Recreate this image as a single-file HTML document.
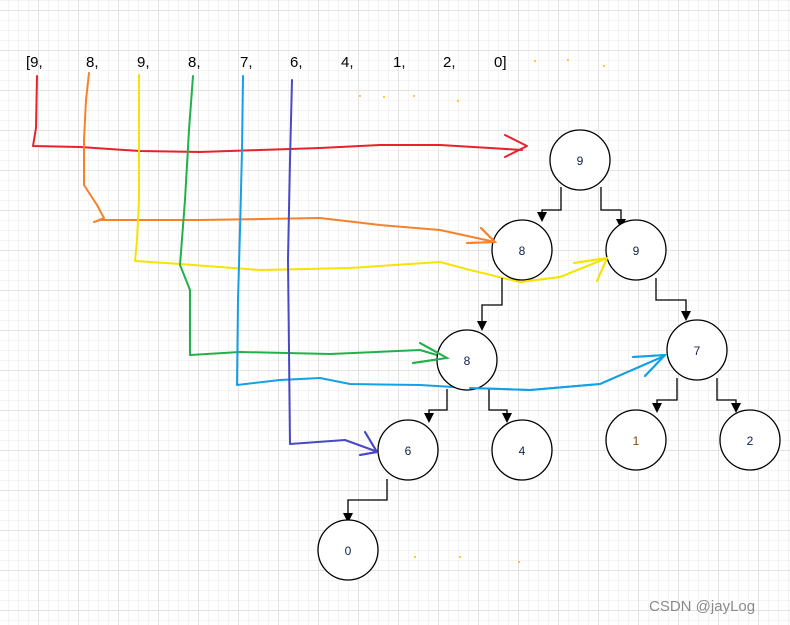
<!DOCTYPE html>
<html><head><meta charset="utf-8"><style>
html,body{margin:0;padding:0;background:#fff;}
svg{display:block;}
</style></head><body>
<svg width="790" height="625" viewBox="0 0 790 625" xmlns="http://www.w3.org/2000/svg">
<defs>
<pattern id="minor" width="10" height="10" patternUnits="userSpaceOnUse" x="8" y="0">
<path d="M0 0.5H10M0.5 0V10" stroke="#f4f4f4" stroke-width="1" fill="none"/>
</pattern>
<pattern id="major" width="40" height="40" patternUnits="userSpaceOnUse" x="-2" y="10">
<path d="M0 0.5H40M0.5 0V40" stroke="#e3e3e3" stroke-width="1" fill="none"/>
</pattern>
</defs>
<rect width="790" height="625" fill="#fff"/>
<rect width="790" height="625" fill="url(#minor)"/>
<rect width="790" height="625" fill="url(#major)"/>

<g font-family="Liberation Sans, sans-serif" font-size="15" fill="#000">
<text x="26" y="67">[9,</text><text x="86" y="67">8,</text><text x="137" y="67">9,</text>
<text x="188" y="67">8,</text><text x="240" y="67">7,</text><text x="290" y="67">6,</text>
<text x="341" y="67">4,</text><text x="393" y="67">1,</text><text x="443" y="67">2,</text>
<text x="494" y="67">0]</text>
</g>
<g fill="#f5b800">
<circle cx="535" cy="61" r="1"/><circle cx="568" cy="60" r="1"/><circle cx="604" cy="66" r="1"/>
<circle cx="360" cy="96" r="1"/><circle cx="384" cy="97" r="1"/><circle cx="414" cy="96" r="1"/><circle cx="458" cy="101" r="1"/>
<circle cx="415" cy="557" r="1"/><circle cx="460" cy="557" r="1"/><circle cx="519" cy="562" r="1"/>
</g>

<g fill="none" stroke-width="2" stroke-linecap="round" stroke-linejoin="round">
<polyline stroke="#e8222b" points="37,76 36,128 33,146 80,147 140,151 200,152 260,150 320,148 380,145 440,145 490,148 522,150"/>
<polyline stroke="#e8222b" points="505,135 527,146 505,157"/>
<polyline stroke="#f5822b" points="89,73 86,100 84,140 84,185 97,205 104,218 94,222 100,220 200,220 320,218 380,225 440,230 495,242"/>
<polyline stroke="#f5822b" points="481,228 495,242 467,243"/>
<polyline stroke="#f5e400" points="139,75 139,200 137,240 135,261 180,264 260,270 350,268 440,262 470,270 520,282 560,277 607,258"/>
<polyline stroke="#f5e400" points="574,263 607,258 597,281"/>
<polyline stroke="#22b04a" points="193,76 189,130 185,200 180,265 190,290 190,355 240,352 330,354 420,350 447,358"/>
<polyline stroke="#22b04a" points="420,343 447,358 413,363"/>
<polyline stroke="#14a0e6" points="243,76 242,150 240,230 238,300 237,385 280,380 320,378 350,384 420,385 470,388 530,390 600,384 662,357"/>
<polyline stroke="#14a0e6" points="633,357 665,355 645,376"/>
<polyline stroke="#4848c8" points="292,80 290,160 288,260 289,350 290,444 345,440 378,452"/>
<polyline stroke="#4848c8" points="365,432 377,452 360,455"/>
</g>

<g fill="none" stroke="#000" stroke-width="1.3">
<polyline points="561,187 561,210 542,210 542,214"/>
<polyline points="601,187 601,210 621,210 621,221"/>
<polyline points="502,278 502,305 482,305 482,324"/>
<polyline points="656,278 656,300 686,300 686,313"/>
<polyline points="447,389 447,410 429,410 429,414"/>
<polyline points="489,389 489,410 507,410 507,414"/>
<polyline points="677,378 677,400 657,400 657,404"/>
<polyline points="717,378 717,400 736,400 736,404"/>
<polyline points="387,479 387,500 348,500 348,514"/>
</g>
<g fill="#000">
<polygon points="537,212 547,212 542,222"/>
<polygon points="616,219 626,219 621,229"/>
<polygon points="477,321 487,321 482,331"/>
<polygon points="681,311 691,311 686,321"/>
<polygon points="424,413 434,413 429,423"/>
<polygon points="502,413 512,413 507,423"/>
<polygon points="652,403 662,403 657,413"/>
<polygon points="731,403 741,403 736,413"/>
<polygon points="343,513 353,513 348,523"/>
</g>

<g fill="#fff" stroke="#000" stroke-width="1.3">
<circle cx="580" cy="160" r="30"/><circle cx="522" cy="250" r="30"/><circle cx="636" cy="250" r="30"/>
<circle cx="467" cy="360" r="30"/><circle cx="697" cy="350" r="30"/>
<circle cx="408" cy="450" r="30"/><circle cx="522" cy="450" r="30"/>
<circle cx="636" cy="440" r="30"/><circle cx="750" cy="440" r="30"/>
<circle cx="348" cy="550" r="30"/>
</g>
<g fill="none" stroke-width="2" stroke-linecap="round">
<polyline stroke="#f5e400" points="520,282 560,277 607,258"/>
<polyline stroke="#14a0e6" points="470,388 530,390 600,384 662,357"/>
<polyline stroke="#f5e400" points="574,263 607,258 597,281"/>
<polyline stroke="#14a0e6" points="633,357 665,355 645,376"/>
<polyline stroke="#22b04a" points="420,343 447,358 413,363"/>
<polyline stroke="#f5822b" points="481,228 495,242 467,243"/>
<polyline stroke="#4848c8" points="365,432 377,452 360,455"/>
</g>
<g font-family="Liberation Sans, sans-serif" font-size="12" fill="#102050" text-anchor="middle">
<text x="580" y="165">9</text><text x="522" y="255">8</text><text x="636" y="255">9</text>
<text x="467" y="365">8</text><text x="697" y="355">7</text>
<text x="408" y="455">6</text><text x="522" y="455">4</text>
<text x="636" y="445" fill="#7a4a00">1</text><text x="750" y="445">2</text>
<text x="348" y="555">0</text>
</g>
<text x="649" y="611" font-family="Liberation Sans, sans-serif" font-size="15" fill="#8a8a8a">CSDN @jayLog</text>
</svg>
</body></html>
